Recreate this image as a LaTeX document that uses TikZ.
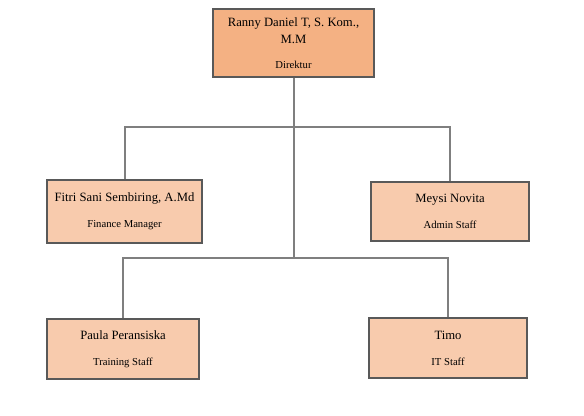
\documentclass[tikz,border=0pt]{standalone}
\usepackage{fontspec}
\setmainfont{Liberation Serif}
\usetikzlibrary{positioning}
\usetikzlibrary{calc}

\definecolor{headfill}{HTML}{F4B183}
\definecolor{staffill}{HTML}{F8CBAD}
\definecolor{boxline}{HTML}{595959}
\definecolor{linkline}{HTML}{7F7F7F}

\newcommand{\rolefont}{\fontsize{8}{10}\selectfont}

\begin{document}
\begin{tikzpicture}[x = 0.75pt, y = -0.75pt, box/.style = {rectangle, draw=boxline, line width=1pt, fill=staffill, align=center, font=\fontsize{9.5}{12.5}\selectfont, inner sep=2pt},head/.style = {box, fill=headfill, minimum width=120.75pt, minimum height=51pt},link/.style = {draw=linkline, line width=1.5pt}]
	\useasboundingbox (0,0) rectangle (584,416);
	\node[head] (dir) at (293.5,43) {Ranny Daniel T, S. Kom.,\\M.M\\[6pt]{\rolefont Direktur}};
	\node[box, minimum width=116.25pt, minimum height=47.25pt] (fin) at (124.5,211.5) {Fitri Sani Sembiring, A.Md\\[7pt]{\rolefont Finance Manager}};
	\node[box, minimum width=118.5pt, minimum height=44.25pt] (adm) at (450,211.5) {Meysi Novita\\[7pt]{\rolefont Admin Staff}};
	\node[box, minimum width=114pt, minimum height=45pt] (trn) at (123,349) {Paula Peransiska\\[7pt]{\rolefont Training Staff}};
	\node[box, minimum width=118.5pt, minimum height=45pt] (its) at (448,348) {Timo\\[7pt]{\rolefont IT Staff}};
	\coordinate (j1) at (293.5,127);
	\coordinate (j2) at (293.5,258);
	\draw[link] (dir.south) -- (j2);
	\draw[link] (fin.north) |- (j1) -| (adm.north);
	\draw[link] (trn.north) |- (j2) -| (its.north);
	\end{tikzpicture}
\end{document}
